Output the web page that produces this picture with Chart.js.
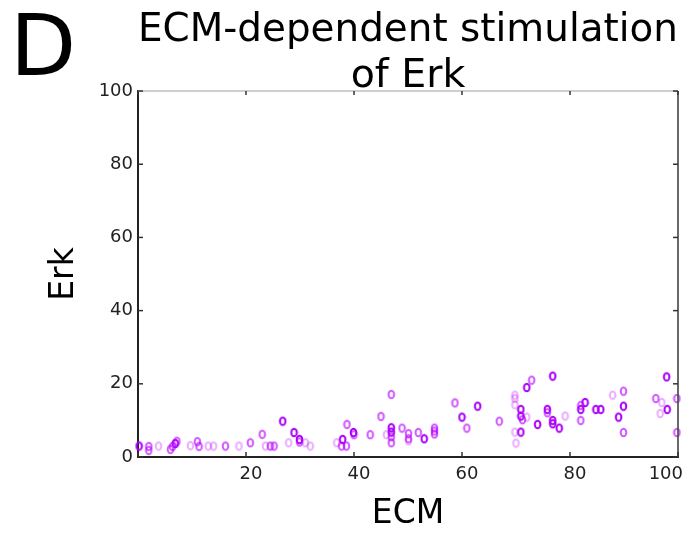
<!DOCTYPE html>
<html><head><meta charset="utf-8">
<script src="https://cdn.jsdelivr.net/npm/chart.js@4"></script>
<style>html,body{margin:0;padding:0;background:#fff;} #wrap{width:690px;height:534px;}</style>
</head><body><div id="wrap"><canvas id="c" width="690" height="534"></canvas></div>
<script>
const panelLabel = 'D';
const chartTitle = ['ECM-dependent stimulation', 'of Erk'];
const xAxisLabel = 'ECM';
const yAxisLabel = 'Erk';
const axisMin = 0;
const axisMax = 100;
const tickStep = 20;

const ecmStrong = [0.2, 6.9, 26.8, 28.9, 29.9, 37.9, 39.9, 46.9, 46.9, 53.0, 60.0, 62.9, 70.9, 70.9, 70.9, 72.0, 74.0, 75.8, 76.8, 76.8, 76.8, 78.0, 82.0, 82.8, 84.8, 85.7, 89.0, 89.9, 97.9, 98.0];
const erkStrong = [3.0, 3.7, 9.8, 6.7, 4.8, 4.8, 6.7, 8.0, 6.8, 5.0, 10.9, 13.9, 13.0, 11.2, 6.8, 19.0, 8.9, 13.0, 22.1, 10.0, 9.1, 7.9, 13.0, 14.9, 13.0, 13.0, 10.9, 13.9, 21.9, 13.0];

const ecmMedium = [2.0, 2.0, 6.0, 6.4, 7.2, 11.0, 11.3, 16.2, 20.8, 23.0, 24.5, 25.2, 29.9, 37.7, 38.6, 38.7, 40.0, 43.0, 45.0, 46.9, 46.9, 46.9, 48.9, 50.1, 50.1, 51.9, 54.9, 54.9, 54.9, 58.7, 60.9, 66.9, 71.2, 72.9, 75.8, 82.0, 82.0, 89.9, 89.9, 95.9, 99.8, 99.8];
const erkMedium = [2.9, 1.8, 2.1, 2.9, 4.3, 4.2, 2.9, 3.0, 3.9, 6.2, 3.0, 3.0, 4.1, 3.0, 3.0, 8.9, 6.1, 6.1, 11.1, 17.1, 5.5, 3.9, 7.9, 6.4, 5.0, 6.7, 7.9, 7.1, 6.3, 14.8, 7.9, 9.8, 10.2, 21.0, 12.1, 14.1, 10.0, 18.0, 6.7, 16.0, 16.0, 6.7];

const ecmFaint = [3.8, 9.7, 13.0, 14.0, 18.7, 23.6, 27.9, 31.0, 31.9, 36.8, 46.0, 50.1, 69.8, 69.8, 69.8, 69.8, 70.0, 72.0, 79.1, 87.9, 97.0, 96.7];
const erkFaint = [3.0, 3.1, 3.0, 3.0, 3.0, 3.0, 3.9, 3.9, 3.0, 3.9, 6.1, 4.4, 16.9, 16.0, 14.3, 6.8, 3.8, 10.9, 11.2, 16.9, 14.9, 11.9];

function makeMarker(color) {
  const cv = document.createElement('canvas');
  cv.width = 9; cv.height = 11;
  const g = cv.getContext('2d');
  g.strokeStyle = color;
  g.lineWidth = 2;
  g.beginPath();
  g.ellipse(4.5, 5.5, 2.8, 3.8, 0, 0, Math.PI * 2);
  g.stroke();
  return cv;
}
function toPoints(xs, ys) { return xs.map((x, i) => ({x: x, y: ys[i]})); }

const framePlugin = {
  id: 'frame',
  afterDraw(chart) {
    const {ctx, chartArea: a, scales: {x, y}} = chart;
    ctx.save();
    ctx.lineWidth = 2;
    ctx.strokeStyle = '#cfcfcf';
    ctx.beginPath(); ctx.moveTo(a.left, a.top); ctx.lineTo(a.right, a.top); ctx.stroke();
    ctx.strokeStyle = '#444';
    ctx.lineWidth = 1.6;
    ctx.beginPath(); ctx.moveTo(a.right, a.top); ctx.lineTo(a.right, a.bottom); ctx.stroke();
    ctx.strokeStyle = '#333';
    ctx.lineWidth = 1.5;
    const len = 5;
    x.ticks.forEach(t => {
      const px = x.getPixelForValue(t.value);
      ctx.beginPath(); ctx.moveTo(px, a.bottom); ctx.lineTo(px, a.bottom - len); ctx.stroke();
      ctx.beginPath(); ctx.moveTo(px, a.top); ctx.lineTo(px, a.top + len - 1); ctx.stroke();
    });
    y.ticks.forEach(t => {
      const py = y.getPixelForValue(t.value);
      ctx.beginPath(); ctx.moveTo(a.left, py); ctx.lineTo(a.left + len, py); ctx.stroke();
      ctx.beginPath(); ctx.moveTo(a.right, py); ctx.lineTo(a.right - len, py); ctx.stroke();
    });
    ctx.fillStyle = '#000';
    ctx.font = '86px "DejaVu Sans"';
    ctx.textBaseline = 'alphabetic';
    ctx.textAlign = 'left';
    ctx.fillText(panelLabel, 10, 75);
    ctx.restore();
  }
};

const tickFont = {family: 'DejaVu Sans', size: 18};
const titleFont = {family: 'DejaVu Sans', size: 33, lineHeight: 1.2};

new Chart(document.getElementById('c'), {
  type: 'scatter',
  data: {
    datasets: [
      {label: 'faint', data: toPoints(ecmFaint, erkFaint), pointStyle: makeMarker('rgba(190,0,255,0.32)'), clip: false},
      {label: 'medium', data: toPoints(ecmMedium, erkMedium), pointStyle: makeMarker('rgba(185,0,255,0.65)'), clip: false},
      {label: 'strong', data: toPoints(ecmStrong, erkStrong), pointStyle: makeMarker('rgb(170,0,250)'), clip: false}
    ]
  },
  options: {
    responsive: false,
    animation: false,
    devicePixelRatio: 1,
    layout: {padding: {top: 0, left: 0, bottom: 0, right: 12}},
    plugins: {
      legend: {display: false},
      tooltip: {enabled: false},
      title: {
        display: true, text: chartTitle, fullSize: false, color: '#000',
        font: {family: 'DejaVu Sans', size: 39.5, weight: 'normal', lineHeight: 1.16},
        padding: {top: 8, bottom: -8.6}
      }
    },
    scales: {
      x: {
        type: 'linear', min: axisMin, max: axisMax, position: 'bottom',
        afterFit: s => { s.height = 77; s.paddingLeft = 0; s.paddingRight = 0; },
        grid: {display: false, drawTicks: false},
        border: {display: true, color: '#222', width: 2},
        ticks: {stepSize: tickStep, align: 'inner', labelOffset: 5, padding: 7, color: '#222', font: tickFont,
          maxRotation: 0, autoSkip: false, callback: v => v === 0 ? '' : String(v)},
        title: {display: true, text: xAxisLabel, color: '#000', font: titleFont, padding: {top: 10, bottom: 0}}
      },
      y: {
        type: 'linear', min: axisMin, max: axisMax, position: 'left',
        afterFit: s => { s.width = 138; s.paddingTop = 0; s.paddingBottom = 0; },
        grid: {display: false, drawTicks: false},
        border: {display: true, color: '#222', width: 2},
        ticks: {stepSize: tickStep, padding: 5, color: '#222', font: tickFont, autoSkip: false},
        title: {display: true, text: yAxisLabel, color: '#000', font: titleFont, padding: {top: 45, bottom: 0}}
      }
    }
  },
  plugins: [framePlugin]
});
</script>
</body></html>
